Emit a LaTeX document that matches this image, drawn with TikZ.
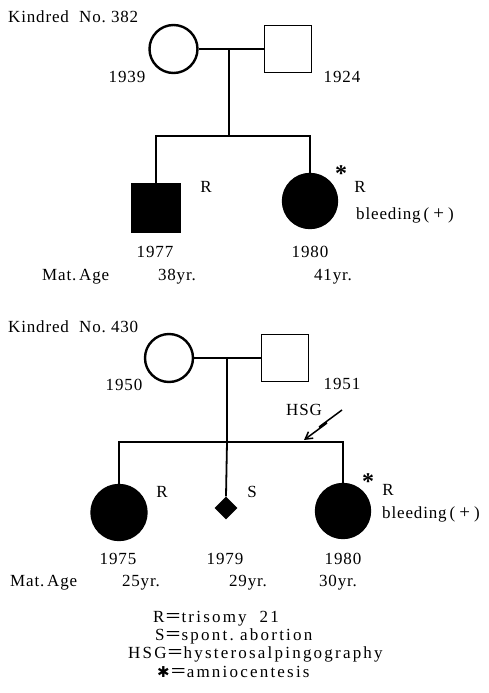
\documentclass[tikz,border=0pt]{standalone}
\usepackage{fontspec}
\setmainfont{Liberation Serif}[LetterSpace=5]
\newfontfamily\legfont{Liberation Serif}[LetterSpace=13]
\newfontfamily\cjkfont{Noto Sans CJK JP}
\newfontfamily\symfont{DejaVu Sans}
\usetikzlibrary{shapes.geometric,arrows.meta}
\newcommand{\bleedtext}{bleeding\hspace{3pt}(\hspace{4pt}{\fontsize{19}{20}\selectfont +}\hspace{4pt})}
\begin{document}
\begin{tikzpicture}[x=1pt,y=-1pt,
  every node/.style={font=\fontsize{17}{20}\selectfont,inner sep=0pt},
  fem/.style={circle,draw,line width=2.4pt,minimum size=48pt},
  male/.style={rectangle,draw,line width=1.8pt,minimum size=47pt},
  aff/.style={fill=black},
  lnk/.style={line width=1.8pt},
  txt/.style={anchor=base},
  txtl/.style={anchor=base west},
  astk/.style={font=\fontsize{24}{24}\selectfont\bfseries},
  leg/.style={anchor=base west,font=\fontsize{17}{20}\selectfont\legfont},
]
\useasboundingbox[fill=white] (0,0) rectangle (488,693);

% ---------------- Kindred 382 ----------------
\node[txtl] (k1) at (8,23) {Kindred\ \ No.\ 382};
\node[fem] (m1) at (173.5,49) {};
\node[male] (f1) at (288,49) {};
\node[txt] (y1939) at (127,82) {1939};
\node[txt] (y1924) at (342,82) {1924};
\coordinate (j1) at (229,49);
\coordinate (s1) at (229,136);
\node[male,aff,minimum size=48pt] (c1a) at (156,208) {};
\node[fem,aff,minimum size=54pt] (c1b) at (310,201) {};
\draw[lnk] (m1.east) -- (f1.west);
\draw[lnk] (j1) -- (s1);
\draw[lnk] (c1a.north) |- (s1) -| (c1b.north);
\node[txt] (r1a) at (206,192) {R};
\node[astk] (st1) at (341,174) {*};
\node[txt] (r1b) at (360,192) {R};
\node[txtl] (b1) at (356,219) {\bleedtext};
\node[txt] (y1977) at (155,257) {1977};
\node[txt] (y1980a) at (310,257) {1980};
\node[txtl] (ma1) at (42,280) {Mat.\,Age};
\node[txt] (a38) at (177,280) {38yr.};
\node[txt] (a41) at (333,280) {41yr.};

% ---------------- Kindred 430 ----------------
\node[txtl] (k2) at (8,332) {Kindred\ \ No.\ 430};
\node[fem] (m2) at (169,358) {};
\node[male] (f2) at (285,358) {};
\node[txt] (y1950) at (124,390) {1950};
\node[txt] (y1951) at (342,389) {1951};
\coordinate (j2) at (227,358);
\coordinate (s2) at (227,442);
\node[fem,aff,minimum size=55pt] (c2a) at (119,512.5) {};
\node[diamond,fill=black,minimum size=23pt] (c2b) at (226,508) {};
\node[fem,aff,minimum size=54pt] (c2c) at (343,511) {};
\draw[lnk] (m2.east) -- (f2.west);
\draw[lnk] (j2) -- (s2);
\draw[lnk] (c2a.north) |- (s2) -| (c2c.north);
\draw[lnk] (s2) -- (c2b.north);
\node[txt] (hsg) at (304,415) {HSG};
\coordinate (h1) at (342,410);
\coordinate (h2) at (319,427);
\coordinate (h3) at (327,423);
\coordinate (h4) at (304,440);
\draw[line width=1.5pt,-{Straight Barb[length=7pt,width=8pt,line width=1.5pt]}] (h1) -- (h2) -- (h3) -- (h4);
\node[txt] (r2a) at (162,497) {R};
\node[txt] (s2t) at (252,497) {S};
\node[astk] (st2) at (368,482) {*};
\node[txt] (r2c) at (388,495) {R};
\node[txtl] (b2) at (382,518) {\bleedtext};
\node[txt] (y1975) at (118,564) {1975};
\node[txt] (y1979) at (225,564) {1979};
\node[txt] (y1980b) at (343,564) {1980};
\node[txtl] (ma2) at (10,586) {Mat.\,Age};
\node[txt] (a25) at (141,586) {25yr.};
\node[txt] (a29) at (248,586) {29yr.};
\node[txt] (a30) at (338,586) {30yr.};

% ---------------- Legend ----------------
\node[leg] (l1) at (153,622) {R{\cjkfont ＝}trisomy\ \ 21};
\node[leg] (l2) at (155,640) {S{\cjkfont ＝}spont.\ abortion};
\node[leg] (l3) at (128,658) {HSG{\cjkfont ＝}hysterosalpingography};
\node[leg] (l4) at (157,677) {{\symfont\fontsize{15}{15}\selectfont ✱}{\cjkfont ＝}amniocentesis};
\end{tikzpicture}
\end{document}
